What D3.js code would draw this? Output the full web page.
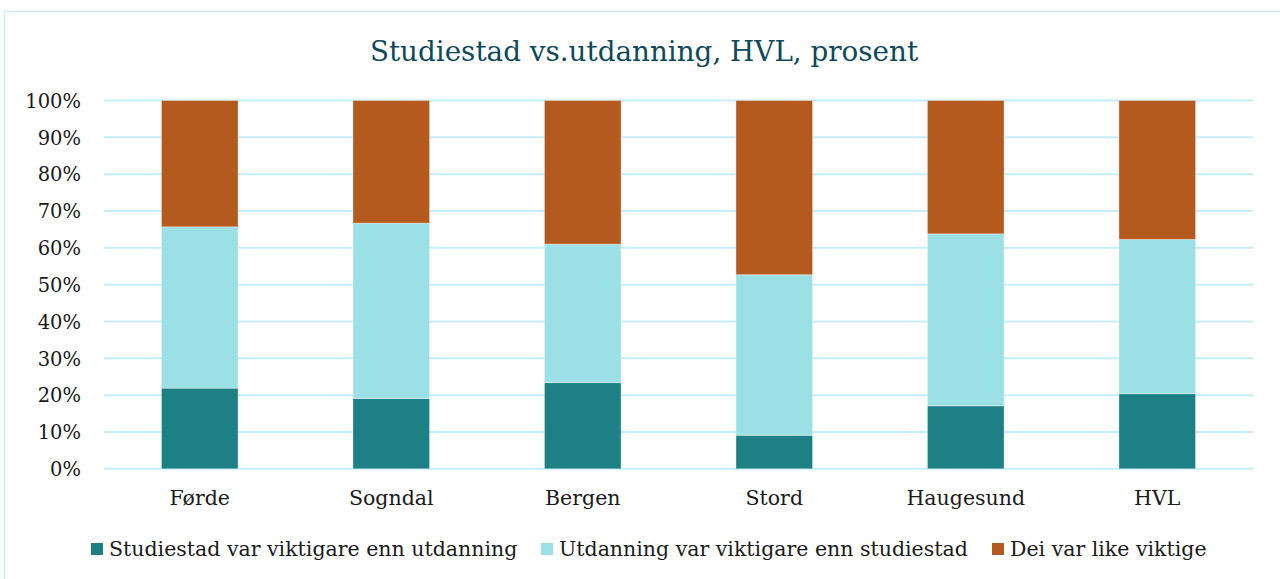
<!DOCTYPE html>
<html><head><meta charset="utf-8">
<script src="https://cdn.jsdelivr.net/npm/d3@7"></script>
<style>body{margin:0;background:#fff}svg{display:block}</style>
</head><body><svg id="c" width="1280" height="579"></svg>
<script>
const categories = ["Førde","Sogndal","Bergen","Stord","Haugesund","HVL"];
const seriesNames = ["Studiestad var viktigare enn utdanning","Utdanning var viktigare enn studiestad","Dei var like viktige"];
const studiestad = [21.9,19.1,23.4,9.1,17.1,20.4];
const utdanning  = [43.8,47.6,37.6,43.6,46.7,41.9];
const likeViktig = [34.3,33.3,39.0,47.3,36.2,37.7];
const yTicks = [0,10,20,30,40,50,60,70,80,90,100];
const colors = ["#1c8084","#9be0e4","#b55a1f"];

const svg = d3.select("#c");
const font = "DejaVu Serif, Georgia, serif";
// outer border
svg.append("rect").attr("x",4.5).attr("y",11.5).attr("width",1290).attr("height",600)
  .attr("fill","none").attr("stroke","#c9eefa").attr("stroke-width",1.5);

const rows = categories.map((c,i)=>({cat:c, s0:studiestad[i], s1:utdanning[i], s2:likeViktig[i]}));
const stack = d3.stack().keys(["s0","s1","s2"])(rows);

const x = d3.scaleBand().domain(categories).range([104,1253]).paddingInner(0.6).paddingOuter(0.3);
const y = d3.scaleLinear().domain([0,100]).range([468.8,100.5]);

// gridlines
svg.append("g").selectAll("line").data(yTicks).join("line")
  .attr("x1",104).attr("x2",1253).attr("y1",d=>y(d)).attr("y2",d=>y(d))
  .attr("stroke","#c6eefa").attr("stroke-width",2);

// bars
svg.append("g").selectAll("g").data(stack).join("g").attr("fill",(d,i)=>colors[i])
  .selectAll("rect").data(d=>d).join("rect")
  .attr("x",d=>x(d.data.cat)).attr("width",x.bandwidth())
  .attr("y",d=>y(d[1])).attr("height",d=>y(d[0])-y(d[1]))
  .attr("stroke","rgba(255,255,255,0.35)").attr("stroke-width",1);

// y axis
const yAxis = d3.axisLeft(y).tickValues(yTicks).tickFormat(d=>d+"%").tickSize(0).tickPadding(0);
const ya = svg.append("g").attr("transform","translate(81,0)").call(yAxis);
ya.select(".domain").remove();
ya.selectAll("text").attr("font-family",font).attr("font-size",19.5).attr("fill","#1a1a1a").attr("dy","0.35em");

// x axis
const xAxis = d3.axisBottom(x).tickSize(0).tickPadding(0);
const xa = svg.append("g").attr("transform","translate(0,498)").call(xAxis);
xa.select(".domain").remove();
xa.selectAll("text").attr("font-family",font).attr("font-size",20.5).attr("fill","#1a1a1a").attr("dy","0.35em");

// title
svg.append("text").attr("x",644).attr("y",61).attr("text-anchor","middle")
  .attr("font-family",font).attr("font-size",27.8).attr("fill","#0e4a5a")
  .text("Studiestad vs.utdanning, HVL, prosent");

// legend
const legX = [91,541,992];
const lg = svg.append("g").selectAll("g").data(seriesNames).join("g")
  .attr("transform",(d,i)=>`translate(${legX[i]},543)`);
lg.append("rect").attr("width",12).attr("height",12).attr("fill",(d,i)=>colors[i]);
lg.append("text").attr("x",18).attr("y",6).attr("dy","0.35em")
  .attr("font-family",font).attr("font-size",20.5).attr("fill","#1a1a1a").text(d=>d);
</script></body></html>
